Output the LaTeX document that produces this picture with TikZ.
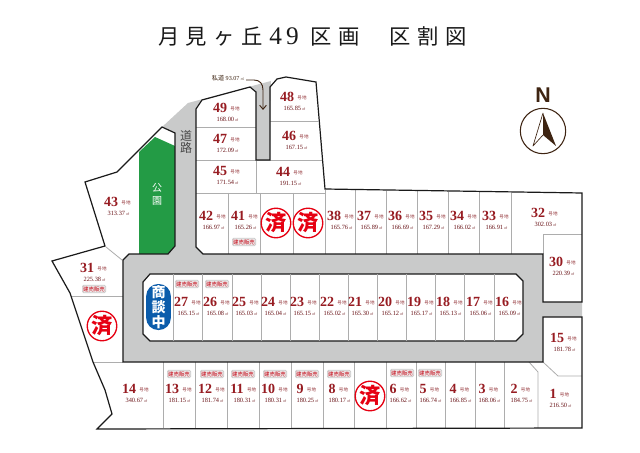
\documentclass[tikz,border=0pt]{standalone}
\usepackage{fontspec}
\setmainfont{Liberation Serif}
\setsansfont{Liberation Sans}
\newfontfamily\jpfont{Noto Sans CJK JP}
\usetikzlibrary{positioning,arrows.meta}
\definecolor{lotred}{HTML}{971C22}
\definecolor{roadgrey}{HTML}{C9CACA}
\definecolor{linegrey}{HTML}{ADADAD}
\definecolor{edgeblack}{HTML}{1A1A1A}
\definecolor{parkgreen}{HTML}{239B45}
\definecolor{stampred}{HTML}{E60012}
\definecolor{talkblue}{HTML}{0B5CAB}
\definecolor{northbrown}{HTML}{3E2412}
\newcommand\sqm{{\jpfont\fontsize{2.4}{3}\selectfont ㎡}}
\tikzset{
  lotno/.style={inner sep=0pt,text=lotred,font=\fontsize{10.5}{11}\selectfont\bfseries},
  lotgo/.style={inner sep=0pt,text=lotred!80!gray,font=\jpfont\fontsize{3.4}{4}\selectfont},
  lotarea/.style={inner sep=0pt,text=lotred!70!black,font=\fontsize{4.8}{5}\selectfont},
  soldmark/.style={circle,draw=stampred,line width=1pt,fill=white,minimum size=22pt,inner sep=0pt,text=stampred,font=\jpfont\fontsize{16}{16}\selectfont\bfseries},
  salebadge/.style={fill=roadgrey!35,draw=roadgrey,line width=0.5pt,rounded corners=1pt,minimum width=17.5pt,minimum height=5.6pt,inner sep=0pt,text=stampred!85!black,font=\jpfont\fontsize{4.1}{4.2}\selectfont},
  lotline/.style={draw=linegrey,line width=0.6pt},
  edgeline/.style={draw=edgeblack,line width=0.9pt,line join=miter}
}
\begin{document}
\begin{tikzpicture}[x=0.75pt,y=-0.75pt]
\useasboundingbox (0,0) rectangle (640,453);
\fill[white] (0,0) rectangle (640,453);
\node[inner sep=0pt,text=edgeblack,font=\jpfont\fontsize{16}{18}\selectfont,anchor=west] (title) at (158,36)
  {\addfontfeature{LetterSpace=30}月見ヶ丘\hspace{5pt}{\rmfamily\fontsize{19}{19}\selectfont 4\hspace{3pt}9}\hspace{9pt}区画\hspace{22.4pt}区割図};
\fill[parkgreen] (139,152) -- (155,137) -- (175,146) -- (175,246) -- (168,254) -- (139,254) -- cycle;
\fill[roadgrey] (162,127) -- (188,103) -- (271,81) -- (270,160) -- (256,160) -- (256,92) -- (250,87) -- (202,100) -- (196,109)
  -- (196,247) -- (203,254) -- (543,254) -- (543,302) -- (582,302) -- (582,317) -- (543,317) -- (543,362)
  -- (123,362) -- (123,260) -- (129,254) -- (168,254) -- (175,246) -- (175,133) -- cycle;
\filldraw[fill=white,edgeline] (143,282) -- (150,274) -- (516,274) -- (523,281) -- (523,334) -- (516,341) -- (150,341) -- (143,334) -- cycle;
\foreach \xa in {173,202,232,261,290,319,348,377,406,435,464,494} \draw[lotline] (\xa,274) -- (\xa,341);
\foreach \xa in {163,195,227,259,291,323,354,386,416,445,475,504} \draw[lotline] (\xa,362) -- (\xa,428);
\foreach \xa/\ya in {228/193,260/193,293/193,325/190,355/190,386/191,417/191,448/192,479/192,511/193} \draw[lotline] (\xa,\ya) -- (\xa,254);
\draw[lotline] (196,193) -- (325,193);
\draw[lotline] (196,127) -- (256,127);
\draw[lotline] (196,160) -- (322,160);
\draw[lotline] (270,121) -- (318,121);
\draw[lotline] (256,160) -- (256,193);
\draw[lotline] (543,254) -- (543,234) -- (582,234);
\draw[lotline] (529,362) -- (538,372) -- (538,428);
\draw[lotline] (543,362) -- (558,376) -- (582,376);
\draw[lotline] (71,296) -- (123,296);
\draw[lotline] (93,362) -- (123,362);
\draw[lotline] (106,247) -- (122,260);
\draw[edgeline] (105,246) -- (85,182) -- (117,172) -- (162,127) -- (175,133) -- (175,246) -- (168,254) -- (129,254) -- (123,260)
  -- (123,362) -- (543,362) -- (543,317) -- (582,317) -- (582,428) -- (97,429) -- (112,414) -- (105,390) -- (93,362) -- (70,293) -- (52,261) -- cycle;
\draw[edgeline] (203,254) -- (196,247) -- (196,109) -- (202,100) -- (250,87) -- (256,92) -- (256,160) -- (270,160) -- (270,87) -- (277,79)
  -- (286,77) -- (316,82) -- (325,189) -- (582,193) -- (582,302) -- (543,302) -- (543,254) -- cycle;
\foreach \lotnum/\x/\y/\lotsize in {
  1/553/394/216.50,2/514/389/184.75,3/482/389/168.06,4/453/389/166.85,5/423/389/166.74,6/393/389/166.62,
  8/332/389/180.17,9/300/389/180.25,10/268/389/180.31,11/237/389/180.31,12/205/389/181.74,13/172/389/181.15,
  14/129/389/340.67,15/557/338/181.78,16/502/302/165.09,17/473/302/165.06,18/443/302/165.13,19/414/302/165.17,
  20/385/302/165.12,21/355/302/165.30,22/327/302/165.02,23/297/302/165.15,24/268/302/165.04,25/239/302/165.03,
  26/210/302/165.08,27/181/302/165.15,30/556/262/220.39,31/87/268/225.38,32/538/213/302.03,33/489/216/166.91,
  34/457/216/166.02,35/426/216/167.29,36/395/216/166.69,37/364/216/165.89,38/334/216/165.76,41/238/216/165.26,
  42/206/216/166.97,43/111/202/313.37,44/283/172/191.15,45/220/171/171.54,46/289/136/167.15,47/220/139/172.09,
  48/287/97/165.85,49/220/108/168.00}{
  \node[lotno] (no\lotnum) at (\x,\y) {\lotnum};
  \node[lotgo,right=2.2pt of no\lotnum,yshift=-0.8pt] (go\lotnum) {号地};
  \node[lotarea] (size\lotnum) at (\x+7.5,\y+11.5) {\lotsize\,\sqm};
}
\foreach \lotnum/\x/\y in {5/430/373,6/402/373,8/339/374,9/307/374,10/275/374,11/243/374,12/212/374,13/179/374,26/217/284,27/187/284,31/94/289,41/244/242}
  \node[salebadge] (sale\lotnum) at (\x,\y) {建売販売};
\foreach \lotnum/\x/\y in {a/276/223,b/308/223,c/102/326,d/370/396}
  \node[soldmark] (sold\lotnum) at (\x,\y) {済};
\node[fill=talkblue,rounded corners=9pt,minimum width=18.5pt,minimum height=34.5pt,inner sep=0pt,align=center,text=white,font=\jpfont\fontsize{10.5}{11.2}\selectfont\bfseries] (talk) at (158.5,307) {商\\談\\中};
\node[inner sep=0pt,align=center,text=white,font=\jpfont\fontsize{7.5}{9.5}\selectfont] (park) at (157,194.5) {公\\園};
\node[inner sep=0pt,align=center,text=edgeblack!80,font=\jpfont\fontsize{9}{9.5}\selectfont] (road) at (186,142) {道\\路};
\node[inner sep=0pt,anchor=east,text=northbrown,font=\fontsize{4.6}{5}\selectfont] (private) at (244,78) {{\jpfont 私道} 93.07\,\sqm};
\coordinate (privatestart) at (246,80);
\coordinate (privateend) at (263,110);
\draw[northbrown,line width=0.7pt,-{Straight Barb[length=3pt,width=5pt]}] (privatestart) -- (254,80) .. controls (260,80) and (263,84) .. (263,90) -- (privateend);
\node[circle,draw=northbrown,line width=0.8pt,minimum size=34pt,inner sep=0pt] (compass) at (543,131) {};
\node[inner sep=0pt,text=northbrown,font=\sffamily\bfseries\fontsize{16}{16}\selectfont] (north) at (543,95) {N};
\fill[northbrown] (543,113) -- (556,146) -- (543,135) -- cycle;
\draw[northbrown,line width=0.5pt,line join=round] (543,113) -- (533,146) -- (543,135);
\end{tikzpicture}
\end{document}
